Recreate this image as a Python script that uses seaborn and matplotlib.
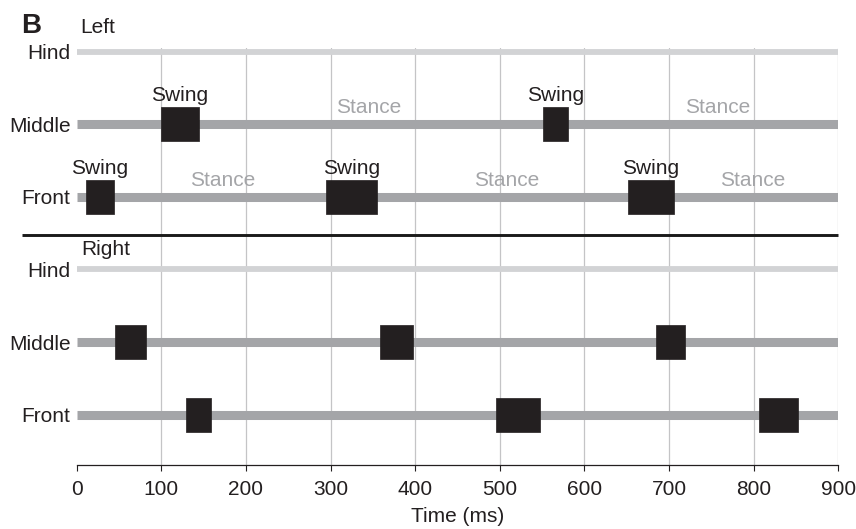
import matplotlib
matplotlib.use("Agg")
import matplotlib.pyplot as plt
import seaborn as sns

# Gait diagram: swing phases (black blocks) of each leg over time
leg_names = ["Hind", "Middle", "Front"]
sides = ["Left", "Right"]

# Swing onset / offset times (ms) for every leg with a swing phase
left_middle_on = [100, 551]
left_middle_off = [144, 581]
left_front_on = [11, 295, 651]
left_front_off = [44, 355, 706]
right_middle_on = [45, 359, 685]
right_middle_off = [82, 398, 719]
right_front_on = [129, 496, 806]
right_front_off = [159, 547, 852]

# Where the "Stance" annotations sit along the left-side tracks (ms)
left_middle_stance_x = [345, 757]
left_front_stance_x = [173, 508, 799]

x_ticks = [0, 100, 200, 300, 400, 500, 600, 700, 800, 900]

sns.set_theme(style="white")
plt.rcParams["font.family"] = ["Liberation Sans", "DejaVu Sans"]

BOX = "#231f20"
TRACK = "#a4a5a8"
HIND = "#d2d3d5"
GRID = "#c4c4c6"
TEXT = "#231f20"
FS = 15

fig = plt.figure(figsize=(8.56, 5.29), dpi=100)
W, H = 856, 529
ax = fig.add_axes([76.7 / W, 1 - 465.3 / H, (838.3 - 76.7) / W, (465.3 - 47.9) / H])

# vertical grid
for xv in x_ticks[1:]:
    ax.axvline(xv, color=GRID, lw=0.9, zorder=0)

rows = {("Left", "Hind"): 0, ("Left", "Middle"): 1, ("Left", "Front"): 2,
        ("Right", "Hind"): 3, ("Right", "Middle"): 4, ("Right", "Front"): 5}

# stance tracks
for (side, leg), r in rows.items():
    if leg == "Hind":
        sns.lineplot(x=[0, 900], y=[r, r], color=HIND, linewidth=4.2, ax=ax,
                     solid_capstyle="butt", zorder=1)
    else:
        sns.lineplot(x=[0, 900], y=[r, r], color=TRACK, linewidth=6.5, ax=ax,
                     solid_capstyle="butt", zorder=1)

# swing blocks
box_h = 0.47
swings = [
    (rows[("Left", "Middle")], left_middle_on, left_middle_off, True),
    (rows[("Left", "Front")], left_front_on, left_front_off, True),
    (rows[("Right", "Middle")], right_middle_on, right_middle_off, False),
    (rows[("Right", "Front")], right_front_on, right_front_off, False),
]
for r, on, off, labelled in swings:
    spans = [(a, b - a) for a, b in zip(on, off)]
    ax.broken_barh(spans, (r - box_h / 2, box_h), facecolors=BOX,
                   edgecolors=BOX, linewidth=0.5, zorder=3)
    if labelled:
        for a, b in zip(on, off):
            ax.text((a + b) / 2, r - 0.32, "Swing", ha="center", va="baseline",
                    fontsize=FS, color=TEXT, zorder=4)

for xs, r in [(left_middle_stance_x, rows[("Left", "Middle")]),
              (left_front_stance_x, rows[("Left", "Front")])]:
    for xv in xs:
        ax.text(xv, r - 0.15, "Stance", ha="center", va="baseline",
                fontsize=FS, color="#a4a5a8", zorder=4)

# divider between left and right legs
ax.plot([-65, 900], [2.525, 2.525], color="#1a1a1a", lw=2.1,
        solid_capstyle="butt", clip_on=False, zorder=5)

ax.set_xlim(0, 900)
ax.set_ylim(5.695, -0.05)
ax.set_xticks(x_ticks)
ax.set_xticklabels([str(v) for v in x_ticks], fontsize=FS, color=TEXT)
ax.set_yticks(list(rows.values()))
ax.set_yticklabels([leg for (_, leg) in rows.keys()], fontsize=FS, color=TEXT)
ax.tick_params(axis="y", length=0, pad=4.5)
ax.tick_params(axis="x", length=4.5, width=0.8, color="#231f20", direction="out",
               bottom=True, pad=6)
ax.set_xlabel("Time (ms)", fontsize=FS, color=TEXT, labelpad=6)
for s in ["top", "right", "left"]:
    ax.spines[s].set_visible(False)
ax.spines["bottom"].set_color("#231f20")
ax.spines["bottom"].set_linewidth(0.9)
ax.grid(False)

fig.text(21 / W, 1 - 33.3 / H, "B", fontsize=20, fontweight="bold", color=TEXT,
         ha="left", va="baseline")
fig.text(80 / W, 1 - 33.3 / H, sides[0], fontsize=FS, color=TEXT, ha="left", va="baseline")
fig.text(81 / W, 1 - 255 / H, sides[1], fontsize=FS, color=TEXT, ha="left", va="baseline")

fig.savefig("out.png", dpi=100)
